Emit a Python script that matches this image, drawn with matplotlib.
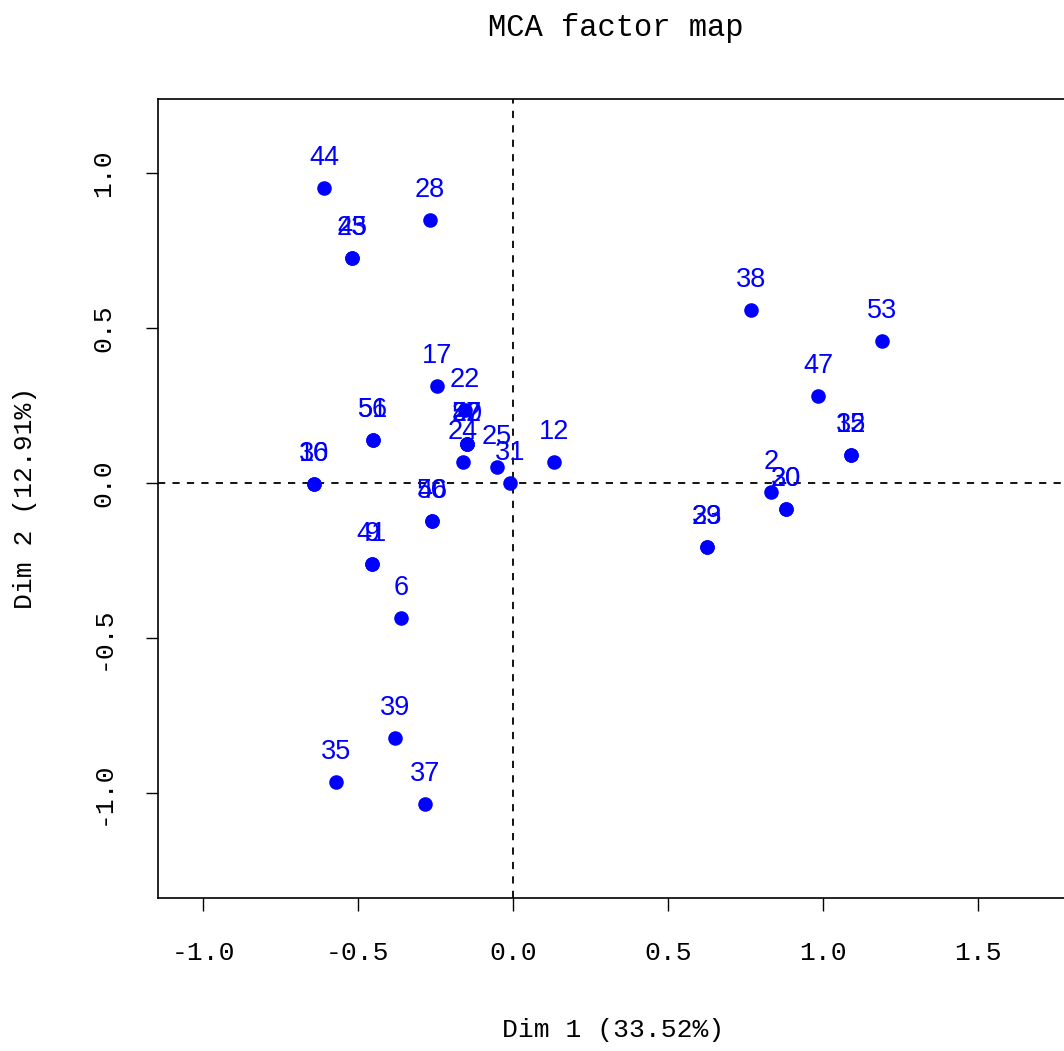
import numpy as np
import matplotlib.pyplot as plt

# individual coordinates on the first two MCA dimensions
labels = ['44', '28', '45', '23', '38', '53', '47', '32', '15', '17', '22',
          '52', '27', '40', '24', '25', '31', '12', '36', '10', '51', '56',
          '46', '50', '41', '9', '6', '39', '35', '37', '29', '33', '2',
          '20', '30']
dim1 = [-0.610, -0.268, -0.519, -0.519, 0.768, 1.190, 0.984, 1.090, 1.090,
        -0.245, -0.155, -0.148, -0.148, -0.148, -0.161, -0.052, -0.010,
        0.132, -0.642, -0.642, -0.452, -0.452, -0.261, -0.261, -0.455,
        -0.455, -0.361, -0.381, -0.571, -0.284, 0.626, 0.626, 0.832,
        0.881, 0.881]
dim2 = [0.952, 0.848, 0.726, 0.726, 0.558, 0.458, 0.281, 0.090, 0.090,
        0.313, 0.235, 0.126, 0.126, 0.126, 0.068, 0.052, 0.000, 0.068,
        -0.003, -0.003, 0.139, 0.139, -0.123, -0.123, -0.261, -0.261,
        -0.436, -0.823, -0.965, -1.035, -0.206, -0.206, -0.029, -0.084,
        -0.084]
xticks = [-1.0, -0.5, 0.0, 0.5, 1.0, 1.5]
yticks = [-1.0, -0.5, 0.0, 0.5, 1.0]

W, H = 1064, 1051
fig = plt.figure(figsize=(W / 100, H / 100), dpi=100)
ax = fig.add_axes([158 / W, 153 / H, 916 / W, 799 / H])

ax.scatter(dim1, dim2, s=110, color='blue', zorder=3, linewidths=0)
for lab, x, y in zip(labels, dim1, dim2):
    ax.annotate(lab, (x, y), xytext=(0, 21.5), textcoords='offset points',
                ha='center', va='center', color='blue', fontsize=19.5,
                family='Liberation Sans', zorder=4)

ax.axhline(0, color='black', lw=1.3, ls=(0, (4, 4)), zorder=1)
ax.axvline(0, color='black', lw=1.3, ls=(0, (4, 4)), zorder=1)

ax.set_xlim(-355 / 310, 561 / 310)
ax.set_ylim(-415 / 310, 384 / 310)
ax.set_xticks(xticks)
ax.set_yticks(yticks)
ax.set_xticklabels([f'{t:.1f}' for t in xticks], family='Liberation Mono', fontsize=19)
ax.set_yticklabels([f'{t:.1f}' for t in yticks], family='Liberation Mono', fontsize=19,
                   rotation=90, va='center')
ax.tick_params(axis='both', length=9, width=1, direction='out')
ax.tick_params(axis='x', pad=22)
ax.tick_params(axis='y', pad=22)
for sp in ax.spines.values():
    sp.set_linewidth(1.2)

fig.text(616 / W, 1 - 28 / H, 'MCA factor map', ha='center', va='center',
         family='Liberation Mono', fontsize=22)
fig.text(613 / W, 1 - 1030 / H, 'Dim 1 (33.52%)', ha='center', va='center',
         family='Liberation Mono', fontsize=19)
fig.text(25 / W, 1 - 498 / H, 'Dim 2 (12.91%)', ha='center', va='center',
         family='Liberation Mono', fontsize=19, rotation=90)

fig.savefig('out.png', dpi=100)
